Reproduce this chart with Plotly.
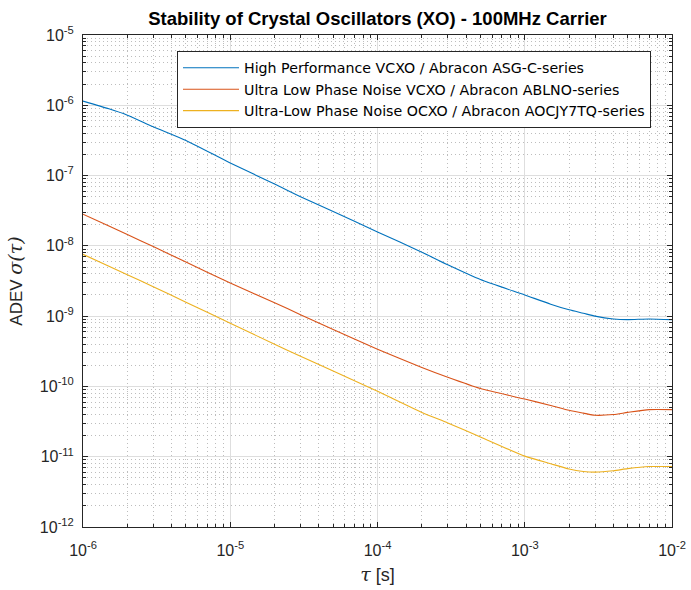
import plotly.graph_objects as go

# ---- data ----
tau = [1e-6, 1.5e-6, 2e-6, 3e-6, 5e-6, 1e-5, 2e-5, 3e-5, 5e-5, 1e-4, 2e-4, 3e-4,
       5e-4, 1e-3, 1.5e-3, 2e-3, 2.5e-3, 3e-3, 4e-3, 5e-3, 7e-3, 1e-2]

adev_asg = [1.148e-6, 8.91e-7, 7.24e-7, 4.95e-7, 3.16e-7, 1.51e-7, 7.59e-8, 5.01e-8,
            3.09e-8, 1.58e-8, 8.13e-9, 5.37e-9, 3.31e-9, 2.00e-9, 1.48e-9, 1.23e-9,
            1.10e-9, 1.00e-9, 9.12e-10, 8.91e-10, 9.12e-10, 8.91e-10]

adev_ablno = [2.82e-8, 1.91e-8, 1.45e-8, 9.77e-9, 5.89e-9, 2.95e-9, 1.55e-9, 1.05e-9,
              6.46e-10, 3.39e-10, 1.86e-10, 1.35e-10, 9.33e-11, 6.61e-11, 5.37e-11,
              4.57e-11, 4.17e-11, 3.89e-11, 3.98e-11, 4.27e-11, 4.68e-11, 4.68e-11]

adev_aocjy = [7.59e-9, 5.13e-9, 3.89e-9, 2.63e-9, 1.58e-9, 7.94e-10, 3.98e-10, 2.69e-10,
              1.66e-10, 8.51e-11, 4.27e-11, 3.02e-11, 1.91e-11, 1.02e-11, 7.94e-12,
              6.68e-12, 6.17e-12, 6.03e-12, 6.31e-12, 6.76e-12, 7.24e-12, 7.24e-12]

series_names = [
    "High Performance VCXO / Abracon ASG-C-series",
    "Ultra Low Phase Noise VCXO / Abracon ABLNO-series",
    "Ultra-Low Phase Noise OCXO / Abracon AOCJY7TQ-series",
]
series_colors = ["#0072BD", "#D95319", "#EDB120"]

x_exponents = [-6, -5, -4, -3, -2]
y_exponents = [-12, -11, -10, -9, -8, -7, -6, -5]

x_tickvals = [10.0 ** e for e in x_exponents]
x_ticktext = ["10<sup>%d</sup>" % e for e in x_exponents]
y_tickvals = [10.0 ** e for e in y_exponents]
y_ticktext = ["10<sup>%d</sup>" % e for e in y_exponents]

x_minor = [k * 10.0 ** e for e in x_exponents[:-1] for k in range(2, 10)]
y_minor = [k * 10.0 ** e for e in y_exponents[:-1] for k in range(2, 10)]

FONT = "Liberation Sans, Arial, Helvetica, sans-serif"
LEGFONT = "DejaVu Sans, Liberation Sans, sans-serif"
MATH = "font-family:'DejaVu Serif',serif;font-style:italic;font-size:19px"
AX = "#262626"

fig = go.Figure()
for name, vals, col in zip(series_names, [adev_asg, adev_ablno, adev_aocjy], series_colors):
    fig.add_trace(go.Scatter(x=tau, y=vals, mode="lines", name=name,
                             line=dict(color=col, width=1.1, shape="spline", smoothing=0.6)))

axis_common = dict(
    type="log", automargin=False,
    showline=True, linecolor=AX, linewidth=1, mirror="allticks",
    ticks="inside", ticklen=5, tickcolor=AX, tickwidth=1,
    showgrid=True, gridcolor="#dedede", gridwidth=1,
    zeroline=False,
    tickfont=dict(family=FONT, size=16, color=AX),
)

fig.update_xaxes(
    range=[-6, -2], tickmode="array", tickvals=x_tickvals, ticktext=x_ticktext,
    minor=dict(tickmode="array", tickvals=x_minor, ticks="inside", ticklen=3,
               tickcolor=AX, showgrid=True, gridcolor="#bdbdbd", griddash="1px,3px",
               gridwidth=1),
    ticklabelstandoff=9,
    title=dict(text='<span style="%s">τ</span> [s]' % MATH,
               font=dict(family=FONT, size=18, color=AX), standoff=10),
    **axis_common,
)
fig.update_yaxes(
    range=[-12, -5], tickmode="array", tickvals=y_tickvals, ticktext=y_ticktext,
    minor=dict(tickmode="array", tickvals=y_minor, ticks="inside", ticklen=3,
               tickcolor=AX, showgrid=True, gridcolor="#bdbdbd", griddash="1px,3px",
               gridwidth=1),
    ticklabelstandoff=5,
    title=dict(text='ADEV <span style="%s">σ(τ)</span>' % MATH,
               font=dict(family=FONT, size=17, color=AX), standoff=12),
    **axis_common,
)

fig.update_layout(
    width=691, height=590,
    margin=dict(l=83, r=19, t=35, b=63),
    paper_bgcolor="white", plot_bgcolor="white",
    title=dict(text="<b>Stability of Crystal Oscillators (XO) - 100MHz Carrier</b>",
               font=dict(family=FONT, size=18.5, color="black"),
               x=0.5, xref="paper", xanchor="center",
               y=1 - 18.5 / 590, yref="container", yanchor="middle"),
    showlegend=True,
    legend=dict(x=(177 - 83) / 589, y=(527 - 51) / 492, xanchor="left", yanchor="top",
                bgcolor="white", bordercolor=AX, borderwidth=1,
                font=dict(family=LEGFONT, size=14.2, color="black"),
                itemwidth=56, tracegroupgap=0),
)

fig.write_html("out.html")
